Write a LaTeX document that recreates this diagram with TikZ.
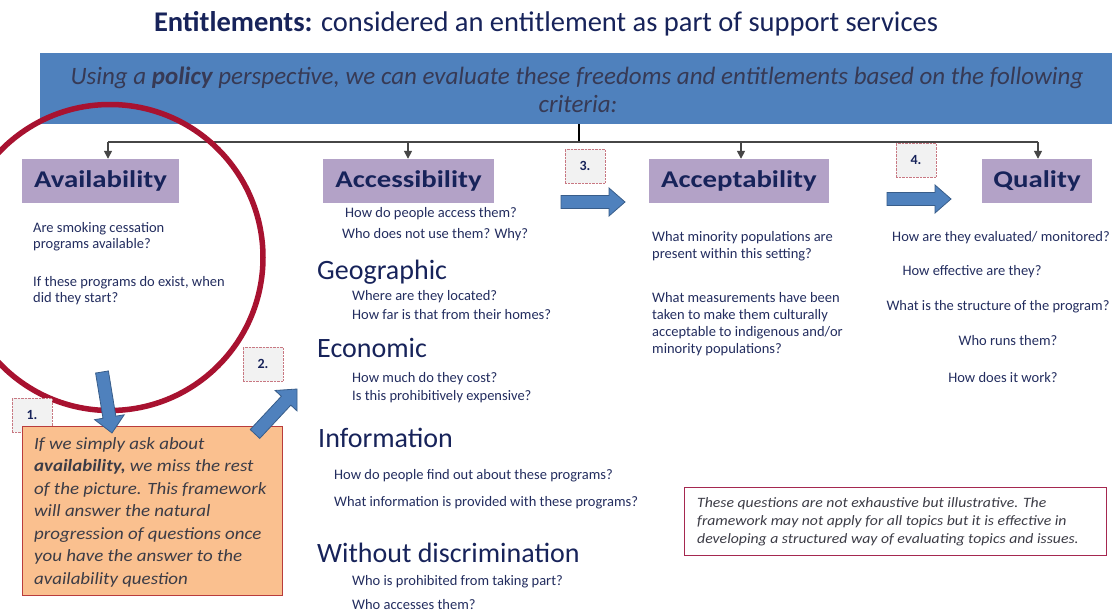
\documentclass[tikz,border=0pt]{standalone}
\usepackage{fontspec}
\setmainfont{Carlito}
\newfontfamily\hdrfont{Carlito}[FakeStretch=1.2]
\newfontfamily\widefont{Carlito}[FakeStretch=1.1]
\usetikzlibrary{arrows.meta,calc}
\definecolor{navy}{RGB}{23,35,90}
\definecolor{bannerblue}{RGB}{79,129,189}
\definecolor{arrowedge}{RGB}{56,93,138}
\definecolor{lilac}{RGB}{179,162,199}
\definecolor{circred}{RGB}{168,18,48}
\definecolor{orangefill}{RGB}{250,192,143}
\definecolor{orangeedge}{RGB}{185,60,60}
\definecolor{noteedge}{RGB}{165,40,80}
\definecolor{qcol}{RGB}{35,45,95}
\definecolor{bantext}{RGB}{55,58,85}
\definecolor{numedge}{RGB}{200,120,130}
\definecolor{italtext}{RGB}{60,60,70}
\definecolor{conngrey}{RGB}{70,70,70}
\tikzset{
  hdr/.style={fill=lilac, text=navy, inner sep=0pt, minimum height=44pt,
    font=\hdrfont\bfseries\fontsize{24}{28}\selectfont},
  q/.style={anchor=base west, inner sep=0pt, text=qcol, font=\fontsize{14.5}{17}\selectfont},
  qc/.style={q, anchor=base},
  sub/.style={anchor=base west, inner sep=0pt, text=navy, font=\fontsize{28}{32}\selectfont},
  otext/.style={anchor=base west, inner sep=0pt, text=italtext, font=\widefont\itshape\fontsize{17.2}{20}\selectfont},
  ntext/.style={anchor=base west, inner sep=0pt, text=italtext, font=\widefont\itshape\fontsize{14.3}{16}\selectfont},
  numbox/.style={draw=numedge, densely dotted, fill=black!5, minimum width=40pt, minimum height=34pt,
    inner sep=0pt, text=navy, font=\bfseries\fontsize{14}{16}\selectfont},
  conn/.style={draw=conngrey, line width=1.5pt},
  connarrow/.style={conn, -{Triangle[width=8pt,length=8pt]}},
  blockarr/.style={fill=bannerblue, draw=arrowedge, line width=0.8pt, line join=miter},
}
\newcommand{\blockarrow}[4]{%
  \coordinate (#1-h) at ($(#2)!16pt!(#1)$);
  \filldraw[blockarr] ($(#1)!#3!90:(#2)$) -- ($(#1-h)!#3!-90:(#1)$) -- ($(#1-h)!#4!-90:(#1)$)
    -- (#2) -- ($(#1-h)!#4!90:(#1)$) -- ($(#1-h)!#3!90:(#1)$) -- ($(#1)!#3!-90:(#2)$) -- cycle;}
\begin{document}
\begin{tikzpicture}[x=1pt,y=-1pt]
\useasboundingbox (0,0) rectangle (1112,613);
\fill[white] (0,0) rectangle (1112,613);

% title
\node[anchor=base, inner sep=0pt, text=navy, font=\fontsize{28.5}{33}\selectfont] (title) at (546,31)
  {\textbf{Entitlements:} considered an entitlement as part of support services};

% banner
\node[fill=bannerblue, minimum width=1072pt, minimum height=71pt, inner sep=0pt] (banner) at (576,88.5) {};
\node[anchor=base, inner sep=0pt, text=bantext, font=\itshape\fontsize{25}{28}\selectfont] (ban1) at (577,84)
  {Using a \textbf{policy} perspective, we can evaluate these freedoms and entitlements based on the following};
\node[anchor=base, inner sep=0pt, text=bantext, font=\itshape\fontsize{25}{28}\selectfont] (ban2) at (578,112) {criteria:};

% header boxes
\node[hdr, minimum width=157pt] (ava) at (100.5,181) {Availability};
\node[hdr, minimum width=171pt] (acc) at (408.5,181) {Accessibility};
\node[hdr, minimum width=180pt] (acp) at (739,181) {Acceptability};
\node[hdr, minimum width=110pt] (qua) at (1037,181) {Quality};

% connectors
\coordinate (root) at (579,142);
\coordinate (busL) at (108,142);
\coordinate (busA) at (408,142);
\coordinate (busC) at (741,142);
\coordinate (busR) at (1038,142);
\draw[conn, draw=black] (banner.south -| root) -- (root);
\draw[conn] (busL) -- (busR);
\draw[connarrow] (busL) -- (busL |- ava.north);
\draw[connarrow] (busA) -- (busA |- acc.north);
\draw[connarrow] (busC) -- (busC |- acp.north);
\draw[connarrow] (busR) -- (busR |- qua.north);

% red circle
\draw[circred, line width=5.5pt] (110,257.5) circle [radius=153pt];

% availability questions
\node[q] (av1) at (33,232) {Are smoking cessation};
\node[q] (av2) at (33,248) {programs available?};
\node[q] (av3) at (33,286) {If these programs do exist, when};
\node[q] (av4) at (33,302) {did they start?};

% accessibility questions
\node[q] (ac1) at (345,217) {How do people access them?};
\node[q] (ac2) at (342,238) {Who does not use them? Why?};
\node[sub] (geo) at (317,279) {Geographic};
\node[q] (ge1) at (352,300) {Where are they located?};
\node[q] (ge2) at (352,319) {How far is that from their homes?};
\node[sub] (eco) at (317,357) {Economic};
\node[q] (ec1) at (352,382) {How much do they cost?};
\node[q] (ec2) at (352,400) {Is this prohibitively expensive?};
\node[sub] (inf) at (318,447) {Information};
\node[q] (in1) at (334,479) {How do people find out about these programs?};
\node[q] (in2) at (334,506) {What information is provided with these programs?};
\node[sub] (wd) at (317,562) {Without discrimination};
\node[q] (wd1) at (352,585) {Who is prohibited from  taking part?};
\node[q] (wd2) at (352,609) {Who accesses them?};

% acceptability questions
\node[q] (ap1) at (652,241) {What minority populations are};
\node[q] (ap2) at (652,258) {present within this setting?};
\node[q] (ap3) at (652,302) {What measurements have been};
\node[q] (ap4) at (652,319) {taken to make them  culturally};
\node[q] (ap5) at (652,336) {acceptable to indigenous and/or};
\node[q] (ap6) at (652,353) {minority populations?};

% quality questions
\node[qc] (qu1) at (1001,241) {How are they evaluated/ monitored?};
\node[qc] (qu2) at (972,275) {How effective are they?};
\node[qc] (qu3) at (998,310) {What is the structure  of the program?};
\node[qc] (qu4) at (1008,345) {Who runs them?};
\node[qc] (qu5) at (1003,382) {How does it work?};

% number boxes
\node[numbox] (n1) at (32,415) {1.};
\node[numbox] (n2) at (263,364) {2.};
\node[numbox] (n3) at (585,166) {3.};
\node[numbox] (n4) at (916,160) {4.};

% orange box
\node[fill=orangefill, draw=orangeedge, line width=1pt, minimum width=260pt, minimum height=169pt, inner sep=0pt] (obox) at (152,510.5) {};
\node[otext] (o1) at (34,449) {If we simply ask about};
\node[otext] (o2) at (34,471.5) {\textbf{availability,} we miss the rest};
\node[otext] (o3) at (34,494) {of the picture. This framework};
\node[otext] (o4) at (34,516.5) {will answer the natural};
\node[otext] (o5) at (34,539) {progression of questions once};
\node[otext] (o6) at (34,561.5) {you have the answer to the};
\node[otext] (o7) at (34,584) {availability question};

% note box
\node[fill=white, draw=noteedge, line width=1pt, minimum width=422pt, minimum height=68pt, inner sep=0pt] (note) at (895,521) {};
\node[ntext] (nt1) at (697,507) {These questions are not exhaustive  but illustrative. The};
\node[ntext] (nt2) at (697,525) {framework may  not apply for all topics but it is effective  in};
\node[ntext] (nt3) at (697,543) {developing a structured way of evaluating  topics and issues.};

% blue block arrows
\coordinate (a1s) at (102,372); \coordinate (a1e) at (112,433);
\coordinate (a2s) at (255,434); \coordinate (a2e) at (297,389);
\coordinate (a3s) at (561,202); \coordinate (a3e) at (625,202);
\coordinate (a4s) at (887,199); \coordinate (a4e) at (951,199);
\blockarrow{a1s}{a1e}{6.5pt}{15pt}
\blockarrow{a2s}{a2e}{6.5pt}{15pt}
\blockarrow{a3s}{a3e}{6.5pt}{14pt}
\blockarrow{a4s}{a4e}{6.5pt}{14pt}
\end{tikzpicture}
\end{document}
